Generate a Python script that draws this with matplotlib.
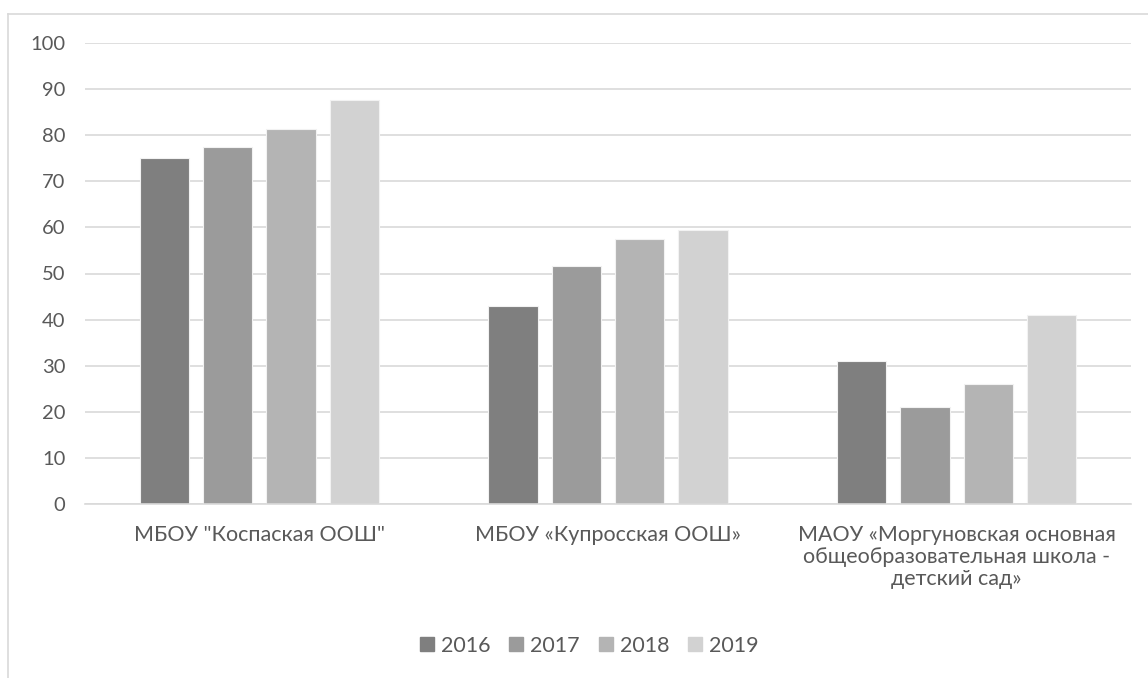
import matplotlib
matplotlib.use("Agg")
import matplotlib.pyplot as plt
import numpy as np
from matplotlib.lines import Line2D

plt.rcParams['font.family'] = ['Lato', 'Open Sans', 'DejaVu Sans']

categories = ['МБОУ "Коспаская ООШ"',
              'МБОУ «Купросская ООШ»',
              'МАОУ «Моргуновская основная\nобщеобразовательная школа -\nдетский сад»']
years = ['2016', '2017', '2018', '2019']
v2016 = [75, 43, 31]
v2017 = [77.4, 51.6, 21]
v2018 = [81.4, 57.5, 26]
v2019 = [87.6, 59.4, 41]
series = [v2016, v2017, v2018, v2019]
colors = ['#7f7f7f', '#9b9b9b', '#b4b4b4', '#d2d2d2']
yticks = [0, 10, 20, 30, 40, 50, 60, 70, 80, 90, 100]

W, H = 1148, 678
fig = plt.figure(figsize=(W / 100, H / 100), dpi=100)
ax = fig.add_axes([85 / W, 1 - 504 / H, (1131 - 85) / W, (504 - 43) / H])

x = np.arange(len(categories))
bw = 0.142
step = 0.1817
for i, (vals, c, lab) in enumerate(zip(series, colors, years)):
    ax.bar(x + (i - 1.5) * step, vals, width=bw, color=c, edgecolor='#f2f2f2',
           linewidth=0.8, label=lab, zorder=3)

ax.set_xlim(-0.5, 2.5)
ax.set_ylim(0, 100)
ax.set_yticks(yticks)
ax.set_yticklabels([str(t) for t in yticks])
ax.set_xticks(x)
ax.set_xticklabels(categories, linespacing=1.12, ha='center', va='top')
ax.tick_params(axis='y', length=0, colors='#595959', labelsize=14.5, pad=14)
ax.tick_params(axis='x', length=0, colors='#595959', labelsize=15.5, pad=15)
ax.grid(axis='y', color='#d9d9d9', linewidth=1.2, zorder=0)
for s in ['left', 'right', 'top']:
    ax.spines[s].set_visible(False)
ax.spines['bottom'].set_color('#d9d9d9')
ax.spines['bottom'].set_linewidth(1.2)
ax.spines['bottom'].set_zorder(4)

handles = [Line2D([0], [0], marker='s', linestyle='none', markersize=10,
                  markerfacecolor=c, markeredgecolor=c) for c in colors]
leg = fig.legend(handles, years, loc='center', bbox_to_anchor=(588 / W, 1 - 646 / H),
                 ncol=4, frameon=False, fontsize=15.5, handletextpad=0.2,
                 columnspacing=0.75, handlelength=0.9)
for t in leg.get_texts():
    t.set_color('#595959')

# outer chart border (left and top visible)
fig.add_artist(Line2D([8 / W, 8 / W], [0, 1 - 13.5 / H], transform=fig.transFigure,
                      color='#d9d9d9', linewidth=1.2))
fig.add_artist(Line2D([8 / W, 1], [1 - 13.5 / H, 1 - 13.5 / H], transform=fig.transFigure,
                      color='#d9d9d9', linewidth=1.2))

fig.savefig('out.png', dpi=100)
